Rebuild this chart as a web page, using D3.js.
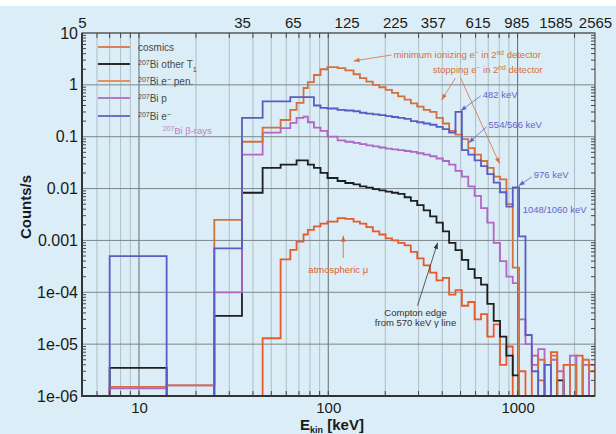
<!DOCTYPE html>
<html>
<head>
<meta charset="utf-8">
<script src="https://cdn.jsdelivr.net/npm/d3@7"></script>
<style>
  body { margin: 0; background: #dbedf6; }
  text { font-family: 'Liberation Sans', Arial, sans-serif; }
</style>
</head>
<body>
<div id="chart"></div>
<script>
// bin edges in keV (shared by all histograms)
const edges = [7, 14, 25, 35, 45, 56, 63, 68, 74, 78,
  84, 91, 99, 112, 123, 136, 147, 159, 172, 186,
  201, 217, 234, 253, 273, 295, 319, 345, 373, 403,
  435, 470, 508, 549, 593, 641, 692, 748, 808, 873,
  943, 1019, 1101, 1189, 1285, 1388, 1500, 1620, 1750, 1891,
  2043, 2207, 2384, 2565]

// counts/s per bin (0 = empty bin)
const cosmics = [0, 0, 0, 0, 1.3e-5, 4.3e-4, 6.6e-4, 9.5e-4, 1.3e-3, 1.6e-3,
  1.86e-3, 2.1e-3, 2.3e-3, 2.7e-3, 2.6e-3, 2.3e-3, 2.1e-3, 1.8e-3, 1.5e-3, 1.3e-3,
  1.1e-3, 1.0e-3, 9e-4, 8e-4, 6e-4, 4.5e-4, 3.3e-4, 2.4e-4, 1.7e-4, 1.9e-4,
  9e-5, 1.1e-4, 5.5e-5, 6.5e-5, 3e-5, 3.8e-5, 1.4e-5, 2.4e-5, 4e-6, 9e-6,
  0, 3e-6, 0, 6e-6, 2e-6, 0, 7e-6, 0, 4e-6, 0,
  6e-6, 0, 4e-6]
const otherT1 = [3.5e-6, 0, 3.5e-5, 8.3e-3, 0.025, 0.029, 0.029, 0.035, 0.035, 0.029,
  0.025, 0.02, 0.016, 0.014, 0.0128, 0.012, 0.011, 0.0104, 0.0098, 0.0092,
  0.0087, 0.0083, 0.0079, 0.0068, 0.0058, 0.0048, 0.0038, 0.0029, 0.0022, 0.0015,
  9e-4, 6.5e-4, 4.2e-4, 2.8e-4, 1.9e-4, 1.4e-4, 6e-5, 2.8e-5, 1.4e-5, 6e-6,
  2.5e-6, 0, 0, 0, 0, 0, 0, 2e-6, 0, 0,
  0, 0, 0]
const ePen = [1.5e-6, 1.6e-6, 2.5e-3, 0.08, 0.15, 0.21, 0.33, 0.45, 0.87, 1.13,
  1.55, 2.0, 2.2, 2.1, 1.9, 1.6, 1.35, 1.15, 1.0, 0.9,
  0.8, 0.7, 0.6, 0.52, 0.44, 0.38, 0.33, 0.3, 0.23, 0.18,
  0.13, 0.11, 0.09, 0.06, 0.045, 0.034, 0.025, 0.017, 0.015, 5e-3,
  3e-4, 0, 0, 0, 5e-6, 0, 6e-6, 0, 0, 4e-6,
  0, 5e-6, 3e-6]
const pSeries = [1.4e-6, 1.6e-6, 1.0e-4, 0.045, 0.12, 0.146, 0.185, 0.23, 0.245, 0.19,
  0.15, 0.13, 0.1, 0.085, 0.08, 0.076, 0.072, 0.068, 0.065, 0.062,
  0.059, 0.057, 0.055, 0.053, 0.051, 0.048, 0.045, 0.042, 0.038, 0.034,
  0.029, 0.022, 0.017, 0.011, 0.0072, 0.0042, 0.0022, 9e-4, 4e-4, 2e-4,
  1.5e-4, 3e-5, 1e-5, 4e-6, 8e-6, 0, 5e-6, 3e-6, 0, 6e-6,
  0, 4e-6, 0]
const eSeries = [5e-4, 0, 7e-4, 0.23, 0.48, 0.48, 0.58, 0.58, 0.58, 0.58,
  0.4, 0.36, 0.35, 0.33, 0.32, 0.31, 0.29, 0.28, 0.27, 0.26,
  0.25, 0.24, 0.23, 0.22, 0.2, 0.19, 0.18, 0.17, 0.155, 0.14,
  0.12, 0.3, 0.055, 0.045, 0.035, 0.027, 0.019, 0.013, 0.0085, 0.0045,
  0.0105, 1.2e-3, 1.5e-5, 3e-6, 0, 4e-6, 0, 0, 0, 0,
  0, 0, 0]

// ticks
const yTicks = [1e-6, 1e-5, 1e-4, 1e-3, 1e-2, 1e-1, 1, 10]
const yTickLabels = ['1e-06', '1e-05', '1e-04', '0.001', '0.01', '0.1', '1', '10']
const xTicks = [10, 100, 1000]
const topTicks = [5, 35, 65, 125, 225, 357, 615, 985, 1585, 2565]

// Our canvas
const width = 616,
  height = 434,
  pLeft = 82, pRight = 595, pTop = 33, pBottom = 396

let svg = d3.select('#chart')
  .append('svg')
  .attr('width', width)
  .attr('height', height)

svg.append('rect').attr('width', width).attr('height', height).attr('fill', '#dbedf6')
svg.append('rect').attr('width', width).attr('height', 6).attr('fill', '#ffffff')

let x = d3.scaleLog().domain([5, 2565]).range([pLeft, pRight])
let y = d3.scaleLog().domain([1e-6, 10]).range([pBottom, pTop])

// minor positions
let xMinor = []
;[1, 10, 100, 1000].forEach(d => { for (let k = 1; k < 10; k++) { let v = d * k; if (v >= 5 && v <= 2565) xMinor.push(v) } })
let yMinor = []
yTicks.forEach(d => { for (let k = 2; k < 10; k++) { if (d * k < 10) yMinor.push(d * k) } })

// grid
let grid = svg.append('g')
grid.selectAll('.vg').data(xMinor).enter().append('line')
  .attr('x1', d => x(d)).attr('x2', d => x(d)).attr('y1', pTop).attr('y2', pBottom)
  .attr('stroke', d => xTicks.includes(d) ? '#6f777d' : '#9fa9b0')
  .attr('stroke-width', d => xTicks.includes(d) ? 1.1 : 0.7)
grid.selectAll('.hg').data(yTicks).enter().append('line')
  .attr('y1', d => y(d)).attr('y2', d => y(d)).attr('x1', pLeft).attr('x2', pRight)
  .attr('stroke', '#7c858b').attr('stroke-width', 1)

// series
const series = [
  { name: 'cosmics', vals: cosmics, color: '#e85a2c' },
  { name: 'otherT1', vals: otherT1, color: '#1e1e1e' },
  { name: 'p', vals: pSeries, color: '#b266c4' },
  { name: 'ePen', vals: ePen, color: '#d4703c' },
  { name: 'e', vals: eSeries, color: '#5b5bc4' }
]

svg.append('clipPath').attr('id', 'clip').append('rect')
  .attr('x', pLeft).attr('y', pTop).attr('width', pRight - pLeft).attr('height', pBottom - pTop)

let stepPoints = vals => {
  let pts = [[edges[0], 0]]
  vals.forEach((v, i) => { pts.push([edges[i], v]); pts.push([edges[i + 1], v]) })
  pts.push([edges[vals.length], 0])
  return pts
}
let line = d3.line()
  .x(d => x(d[0]))
  .y(d => d[1] > 0 ? y(d[1]) : pBottom + 4)

svg.append('g').attr('clip-path', 'url(#clip)')
  .selectAll('path').data(series).enter().append('path')
  .attr('d', d => line(stepPoints(d.vals)))
  .attr('fill', 'none')
  .attr('stroke', d => d.color)
  .attr('stroke-width', 1.8)
  .attr('stroke-linejoin', 'miter')

// frame and ticks
let frame = svg.append('g')
frame.append('rect').attr('x', pLeft).attr('y', pTop).attr('width', pRight - pLeft).attr('height', pBottom - pTop)
  .attr('fill', 'none').attr('stroke', '#555').attr('stroke-width', 1.2)
frame.append('line').attr('x1', pLeft).attr('x2', pLeft).attr('y1', pTop).attr('y2', pBottom + 1)
  .attr('stroke', '#333').attr('stroke-width', 2)
frame.append('line').attr('x1', pLeft - 1).attr('x2', pRight).attr('y1', pBottom).attr('y2', pBottom)
  .attr('stroke', '#333').attr('stroke-width', 2)

let minorTick = (g, vals, fn) => g.selectAll('line.t').data(vals).enter().append('line').each(fn)
  .attr('stroke', '#444').attr('stroke-width', 1)
let tk = svg.append('g')
minorTick(tk.append('g'), xMinor, function (d) { d3.select(this).attr('x1', x(d)).attr('x2', x(d)).attr('y1', pTop).attr('y2', pTop + 5) })
minorTick(tk.append('g'), xMinor, function (d) { d3.select(this).attr('x1', x(d)).attr('x2', x(d)).attr('y1', pBottom).attr('y2', pBottom - 5) })
minorTick(tk.append('g'), yMinor, function (d) { d3.select(this).attr('y1', y(d)).attr('y2', y(d)).attr('x1', pLeft).attr('x2', pLeft + 4) })
minorTick(tk.append('g'), yMinor, function (d) { d3.select(this).attr('y1', y(d)).attr('y2', y(d)).attr('x1', pRight).attr('x2', pRight - 4) })

// axes labels
let yAxis = d3.axisLeft(y).tickValues(yTicks).tickSize(0).tickPadding(4)
  .tickFormat((d, i) => yTickLabels[i])
let gy = svg.append('g').attr('transform', `translate(${pLeft},0)`).call(yAxis)
let xAxis = d3.axisBottom(x).tickValues(xTicks).tickSize(0).tickPadding(6).tickFormat(d3.format('d'))
let gx = svg.append('g').attr('transform', `translate(0,${pBottom})`).call(xAxis)
let tAxis = d3.axisTop(x).tickValues(topTicks).tickSize(0).tickPadding(5).tickFormat(d3.format('d'))
let gt = svg.append('g').attr('transform', `translate(0,${pTop})`).call(tAxis)
;[gy, gx, gt].forEach(g => {
  g.select('.domain').remove()
  g.selectAll('text').attr('fill', '#1a1a1a').attr('font-family', "'Liberation Sans', Arial, sans-serif")
})
gy.selectAll('text').attr('font-size', 16)
gx.selectAll('text').attr('font-size', 15)
gt.selectAll('text').attr('font-size', 15)

svg.append('text')
  .attr('transform', 'translate(31,207) rotate(-90)')
  .attr('text-anchor', 'middle')
  .attr('font-size', 15).attr('font-weight', 'bold').attr('fill', '#1a1a1a')
  .text('Counts/s')
let xt = svg.append('text').attr('x', 300).attr('y', 430)
  .attr('font-size', 15).attr('font-weight', 'bold').attr('fill', '#1a1a1a')
xt.append('tspan').text('E')
xt.append('tspan').text('kin').attr('font-size', 9).attr('dy', 3)
xt.append('tspan').text(' [keV]').attr('dy', -3)

// rich text helper
let rich = (t, parts) => {
  parts.forEach(p => {
    let s = t.append('tspan').text(p[0])
    if (p[1] === 'sup') s.attr('baseline-shift', 'super').attr('font-size', '70%')
    if (p[1] === 'sub') s.attr('baseline-shift', 'sub').attr('font-size', '70%')
  })
  return t
}

// legend
const legendLabels = [
  [['cosmics']],
  [['207', 'sup'], ['Bi other T'], ['1', 'sub']],
  [['207', 'sup'], ['Bi e'], ['\u2212', 'sup'], [' pen.']],
  [['207', 'sup'], ['Bi p']],
  [['207', 'sup'], ['Bi e'], ['\u2212', 'sup']]
]
const legendColors = ['#d9805e', '#2a2a2a', '#e0935a', '#b27ac4', '#6f6fc4']
let lg = svg.append('g').attr('transform', 'translate(98,47)')
legendLabels.forEach((lab, i) => {
  let row = lg.append('g').attr('transform', `translate(0,${[0, 17, 34, 51, 69][i]})`)
  row.append('line').attr('x1', 0).attr('x2', 32).attr('stroke', legendColors[i]).attr('stroke-width', 2)
  rich(row.append('text').attr('x', 40).attr('y', 4).attr('font-size', 10).attr('fill', '#4a4a4a'), lab)
})

// annotations (anchored in data coordinates)
const notes = [
  { e: 221, c: 3.3, parts: [['minimum ionizing e'], ['\u2212', 'sup'], [' in 2'], ['nd', 'sup'], [' detector']], color: '#d8703c' },
  { e: 356, c: 1.69, parts: [['stopping e'], ['\u2212', 'sup'], [' in 2'], ['nd', 'sup'], [' detector']], color: '#d8703c' },
  { e: 654, c: 0.56, parts: [['482 keV']], color: '#6565cc' },
  { e: 703, c: 0.148, parts: [['554/566 keV']], color: '#6565cc' },
  { e: 1217, c: 0.016, parts: [['976 keV']], color: '#6565cc' },
  { e: 1064, c: 3.4e-3, parts: [['1048/1060 keV']], color: '#6565cc' },
  { e: 13.4, c: 0.113, parts: [['207', 'sup'], ['Bi \u03b2-rays']], color: '#c47cc4' },
  { e: 78.5, c: 2.4e-4, parts: [['atmospheric \u03bc']], color: '#e0602e' },
  { e: 289, c: 3.5e-5, parts: [['Compton edge']], color: '#333', anchor: 'middle' },
  { e: 289, c: 2.26e-5, parts: [['from 570 keV \u03b3 line']], color: '#333', anchor: 'middle' }
]
notes.forEach(n => {
  rich(svg.append('text').attr('x', x(n.e)).attr('y', y(n.c))
    .attr('font-size', 9.5).attr('fill', n.color)
    .attr('text-anchor', n.anchor || 'start'), n.parts)
})

const arrows = [
  { from: [216, 3.77], to: [136, 2.89], color: '#d8703c' },
  { from: [470, 1.36], to: [397, 0.51], color: '#d8703c' },
  { from: [500, 1.36], to: [804, 0.030], color: '#d8703c' },
  { from: [638, 0.61], to: [500, 0.314], color: '#6565cc' },
  { from: [686, 0.155], to: [551, 0.076], color: '#6565cc' },
  { from: [1188, 0.0168], to: [1014, 0.0113], color: '#6565cc' },
  { from: [120, 4.6e-4], to: [120, 1.23e-3], color: '#e0602e' },
  { from: [296, 5.5e-5], to: [378, 9e-4], color: '#333' }
]
arrows.forEach(a => {
  let x1 = x(a.from[0]), y1 = y(a.from[1]), x2 = x(a.to[0]), y2 = y(a.to[1])
  svg.append('line').attr('x1', x1).attr('y1', y1).attr('x2', x2).attr('y2', y2)
    .attr('stroke', a.color).attr('stroke-width', 0.8)
  let ang = Math.atan2(y2 - y1, x2 - x1) * 180 / Math.PI
  svg.append('path').attr('d', 'M0,0 L-6,-2.2 L-6,2.2 Z')
    .attr('transform', `translate(${x2},${y2}) rotate(${ang})`)
    .attr('fill', a.color)
})
</script>
</body>
</html>
